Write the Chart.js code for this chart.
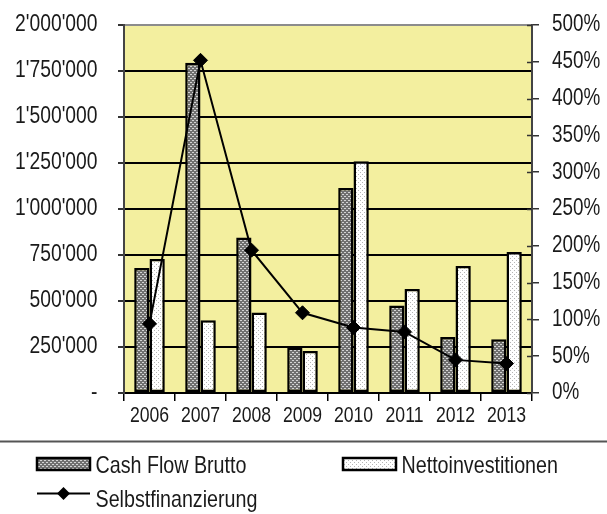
<!DOCTYPE html>
<html>
<head>
<meta charset="utf-8">
<script src="https://cdn.jsdelivr.net/npm/chart.js@4/dist/chart.umd.min.js"></script>
<style>
    body { margin: 0; background: #fff; }
    canvas { display: block; }
</style>
</head>
<body>
<canvas id="cashflowChart" width="607" height="514"></canvas>
<script>
// Jahre und Werte
const years = ['2006', '2007', '2008', '2009', '2010', '2011', '2012', '2013'];
const cashFlowBrutto = [680000, 1795000, 845000, 247000, 1114000, 475000, 304000, 292000];
const nettoinvestitionen = [728000, 395000, 437000, 228000, 1259000, 565000, 690000, 766000];
const selbstfinanzierung = [94, 452, 194, 109, 89, 83, 45, 40]; // in %

const FONT = '"Liberation Sans", Arial, sans-serif';
const NARROW = 0.82; // horizontal squeeze for a narrow look
const TEXT_COLOR = '#1a1a1a';
const PLOT_BG = '#f3ef9f';

/**
 * Build a small dotted fill pattern for the bars
 */
function makePattern(bg, dot, cells) {
    const c = document.createElement('canvas');
    c.width = 4;
    c.height = 4;
    const g = c.getContext('2d');
    g.fillStyle = bg;
    g.fillRect(0, 0, 4, 4);
    g.fillStyle = dot;
    cells.forEach(([x, y]) => g.fillRect(x, y, 1, 1));
    return g.createPattern(c, 'repeat');
}

const cashFlowFill = makePattern('#707070', '#d4d4d4', [[0, 0], [2, 2], [1, 0], [3, 2]]);
const nettoFill = makePattern('#ffffff', '#b5b5b5', [[0, 0], [2, 2]]);

/**
 * Format with apostrophe thousands separator, zero shown as dash
 */
function formatChf(value) {
    if (value === 0) return '-';
    return String(value).replace(/\B(?=(\d{3})+(?!\d))/g, "'");
}

/**
 * Draw condensed text (narrow sans look)
 */
function narrowText(ctx, text, x, y, size, align, baseline) {
    ctx.save();
    ctx.font = size + 'px ' + FONT;
    ctx.fillStyle = TEXT_COLOR;
    ctx.textAlign = align;
    ctx.textBaseline = baseline || 'middle';
    ctx.translate(x, y);
    ctx.scale(NARROW, 1);
    ctx.fillText(text, 0, 0);
    ctx.restore();
}

// Yellow plot background
const plotBackground = {
    id: 'plotBackground',
    beforeDraw(chart) {
        const { ctx, chartArea: a } = chart;
        ctx.save();
        ctx.fillStyle = PLOT_BG;
        ctx.fillRect(a.left, a.top, a.right - a.left, a.bottom - a.top);
        ctx.restore();
    }
};

// Axis labels, inner right ticks and the legend under the chart
const labelsAndLegend = {
    id: 'labelsAndLegend',
    afterDraw(chart) {
        const { ctx, chartArea: a, scales } = chart;
        const { x, y, y1 } = scales;
        ctx.save();

        ctx.strokeStyle = '#333';
        ctx.lineWidth = 1.5;
        y1.ticks.forEach(t => {
            const py = Math.round(y1.getPixelForValue(t.value)) + 0.5;
            ctx.beginPath();
            ctx.moveTo(a.right - 5, py);
            ctx.lineTo(a.right, py);
            ctx.stroke();
        });

        y.ticks.forEach(t => {
            narrowText(ctx, formatChf(t.value), 97.5, y.getPixelForValue(t.value), 23.5, 'right');
        });
        y1.ticks.forEach(t => {
            narrowText(ctx, t.value + '%', 552, y1.getPixelForValue(t.value), 23, 'left');
        });
        years.forEach((label, i) => {
            narrowText(ctx, label, x.getPixelForValue(i), 416, 21.5, 'center');
        });

        // separator line
        ctx.strokeStyle = '#555';
        ctx.lineWidth = 2;
        ctx.beginPath();
        ctx.moveTo(0, 441.5);
        ctx.lineTo(chart.width, 441.5);
        ctx.stroke();

        const boxes = [
            { x: 37, fill: cashFlowFill, label: 'Cash Flow Brutto' },
            { x: 343, fill: nettoFill, label: 'Nettoinvestitionen' }
        ];
        boxes.forEach(b => {
            ctx.fillStyle = b.fill;
            ctx.fillRect(b.x, 458, 53, 12);
            ctx.strokeStyle = '#000';
            ctx.lineWidth = 2.5;
            ctx.strokeRect(b.x, 458, 53, 12);
            narrowText(ctx, b.label, b.x + 58.5, 472.7, 24, 'left', 'alphabetic');
        });

        // line entry
        ctx.strokeStyle = '#000';
        ctx.lineWidth = 2;
        ctx.beginPath();
        ctx.moveTo(37, 493.5);
        ctx.lineTo(90, 493.5);
        ctx.stroke();
        ctx.fillStyle = '#000';
        ctx.beginPath();
        ctx.moveTo(63.5, 487);
        ctx.lineTo(70, 493.5);
        ctx.lineTo(63.5, 500);
        ctx.lineTo(57, 493.5);
        ctx.closePath();
        ctx.fill();
        narrowText(ctx, 'Selbstfinanzierung', 95.5, 506.7, 24, 'left', 'alphabetic');

        ctx.restore();
    }
};

const ctx = document.getElementById('cashflowChart').getContext('2d');

new Chart(ctx, {
    type: 'bar',
    data: {
        labels: years,
        datasets: [
            {
                type: 'line',
                label: 'Selbstfinanzierung',
                data: selbstfinanzierung,
                yAxisID: 'y1',
                borderColor: '#000',
                backgroundColor: '#000',
                borderWidth: 2,
                tension: 0,
                pointStyle: 'rectRot',
                pointRadius: 7,
                pointBorderWidth: 1,
                order: 0
            },
            {
                label: 'Cash Flow Brutto',
                data: cashFlowBrutto,
                yAxisID: 'y',
                backgroundColor: cashFlowFill,
                borderColor: '#000',
                borderWidth: 2.5,
                borderSkipped: false,
                categoryPercentage: 0.6,
                barPercentage: 1.0,
                order: 1
            },
            {
                label: 'Nettoinvestitionen',
                data: nettoinvestitionen,
                yAxisID: 'y',
                backgroundColor: nettoFill,
                borderColor: '#000',
                borderWidth: 2.5,
                borderSkipped: false,
                categoryPercentage: 0.6,
                barPercentage: 1.0,
                order: 1
            }
        ]
    },
    options: {
        responsive: false,
        animation: false,
        layout: {
            padding: { top: 25, left: 0, right: 0, bottom: 0 }
        },
        plugins: {
            legend: { display: false },
            tooltip: { enabled: false }
        },
        scales: {
            x: {
                offset: true,
                grid: {
                    offset: true,
                    drawOnChartArea: false,
                    color: '#000',
                    lineWidth: 1.5,
                    tickLength: 8
                },
                border: { color: '#000', width: 2 },
                ticks: { display: false },
                afterFit(scale) { scale.height = 121; }
            },
            y: {
                position: 'left',
                min: 0,
                max: 2000000,
                grid: {
                    color: c => c.tick && c.tick.value === 2000000 ? '#8c8c8c' : '#000',
                    lineWidth: 2,
                    tickLength: 6,
                    tickColor: '#333'
                },
                border: { color: '#444', width: 2 },
                ticks: { stepSize: 250000, display: false },
                afterFit(scale) { scale.width = 124; }
            },
            y1: {
                position: 'right',
                min: 0,
                max: 500,
                grid: {
                    drawOnChartArea: false,
                    color: '#333',
                    lineWidth: 1.5,
                    tickLength: 7
                },
                border: { color: '#444', width: 2 },
                ticks: { stepSize: 50, display: false },
                afterFit(scale) { scale.width = 75; }
            }
        }
    },
    plugins: [plotBackground, labelsAndLegend]
});
</script>
</body>
</html>
